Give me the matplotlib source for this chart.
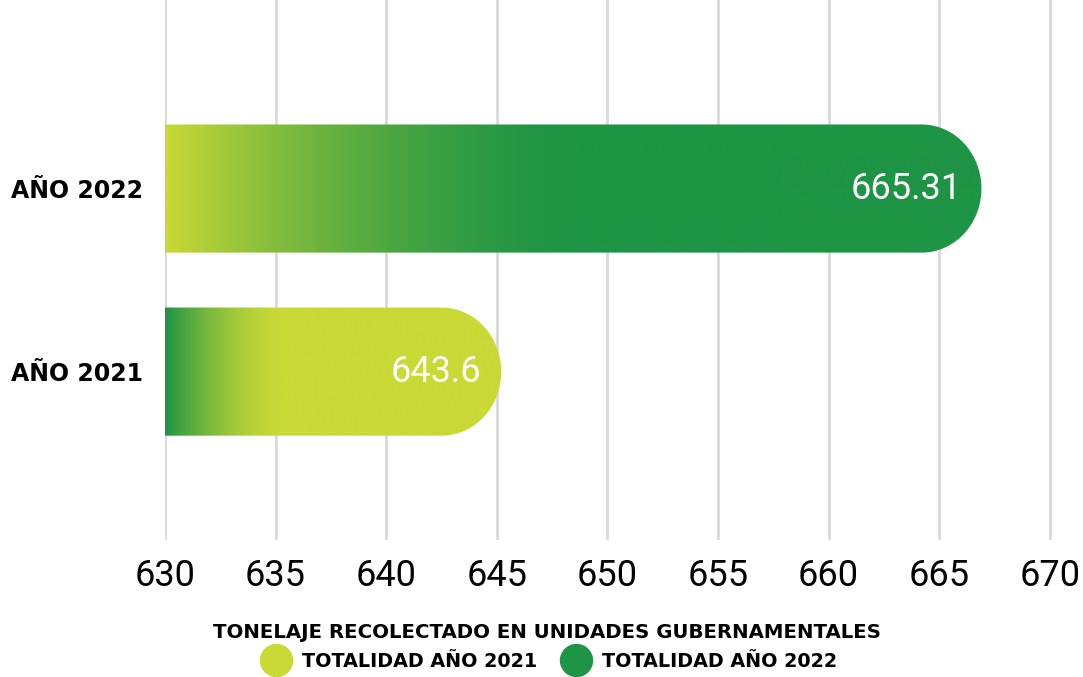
import numpy as np
import matplotlib
matplotlib.use("Agg")
import matplotlib.pyplot as plt
from matplotlib.colors import LinearSegmentedColormap
from matplotlib.path import Path
from matplotlib.patches import PathPatch
from matplotlib.lines import Line2D

# data
categories = ["AÑO 2021", "AÑO 2022"]
values = [643.6, 665.31]
value_labels = ["643.6", "665.31"]
legend_labels = ["TOTALIDAD AÑO 2021", "TOTALIDAD AÑO 2022"]
xticks = [630, 635, 640, 645, 650, 655, 660, 665, 670]
legend_title = "TONELAJE RECOLECTADO EN UNIDADES GUBERNAMENTALES"

lime = "#c9d936"
green = "#1e9445"
heavy = {"family": "DejaVu Sans", "weight": "bold"}

fig = plt.figure(figsize=(10.83, 6.77), dpi=100)
ax = fig.add_axes([165 / 1083, 1 - 540 / 677, (1052 - 165) / 1083, 540 / 677])

x0 = 630
bar_h = 0.70
cap_w = 2.7     # width of the rounded end, in data units
tip_pad = 1.6   # how far the rounded tip goes past the value

# gradient per bar: (start colour, end colour, gradient length)
grads = [(green, lime, 5.5), (lime, green, 19.0)]

for i, (v, lab) in enumerate(zip(values, value_labels)):
    tip = v + tip_pad
    yb, yt = i - bar_h / 2, i + bar_h / 2
    # outline: rectangle + elliptic cap
    t = np.linspace(np.pi / 2, -np.pi / 2, 60)
    cx = tip - cap_w
    cap = np.column_stack([cx + cap_w * np.cos(t), i + bar_h / 2 * np.sin(t)])
    verts = np.vstack([[[x0, yb], [x0, yt], [cx, yt]], cap, [[x0, yb]]])
    codes = [Path.MOVETO] + [Path.LINETO] * (len(verts) - 2) + [Path.CLOSEPOLY]
    patch = PathPatch(Path(verts, codes), facecolor="none", edgecolor="none")
    ax.add_patch(patch)

    c1, c2, glen = grads[i]
    cmap = LinearSegmentedColormap.from_list("g%d" % i, [c1, c2])
    xs = np.linspace(x0, tip, 600)
    s = np.clip((xs - x0) / glen, 0, 1)
    s = 1 - (1 - s) ** 1.7   # ease out
    im = ax.imshow(s[None, :], extent=[x0, tip, yb, yt], aspect="auto", cmap=cmap,
                   vmin=0, vmax=1, origin="lower", zorder=2, interpolation="bilinear")
    im.set_clip_path(patch)

    ax.text(tip - 0.9, i, lab, ha="right", va="center", color="white",
            fontsize=26, family="Roboto", zorder=3)

ax.set_xlim(630, 670.1)
ax.set_ylim(-0.92, 2.03)
ax.set_xticks(xticks)
ax.set_xticklabels([str(t) for t in xticks], family="Roboto", fontsize=26)
ax.set_yticks(range(len(categories)))
ax.set_yticklabels(categories, fontsize=17, **heavy)
ax.tick_params(axis="both", length=0)
ax.tick_params(axis="x", pad=13)
ax.tick_params(axis="y", pad=16)
ax.grid(axis="x", color="#d9d9d9", linewidth=2, zorder=0)
ax.set_axisbelow(True)
for sp in ax.spines.values():
    sp.set_visible(False)

handles = [Line2D([], [], marker="o", linestyle="none", markersize=23,
                  markerfacecolor=c, markeredgecolor=c) for c in [lime, green]]
leg = fig.legend(handles, legend_labels, loc="lower center", bbox_to_anchor=(0.505, -0.016),
                 ncol=2, frameon=False, title=legend_title, handletextpad=0.35,
                 columnspacing=1.0, prop=dict(heavy, size=13.8),
                 title_fontproperties=dict(heavy, size=14.2))
leg._legend_box.sep = 7

fig.savefig("out.png", dpi=100)
